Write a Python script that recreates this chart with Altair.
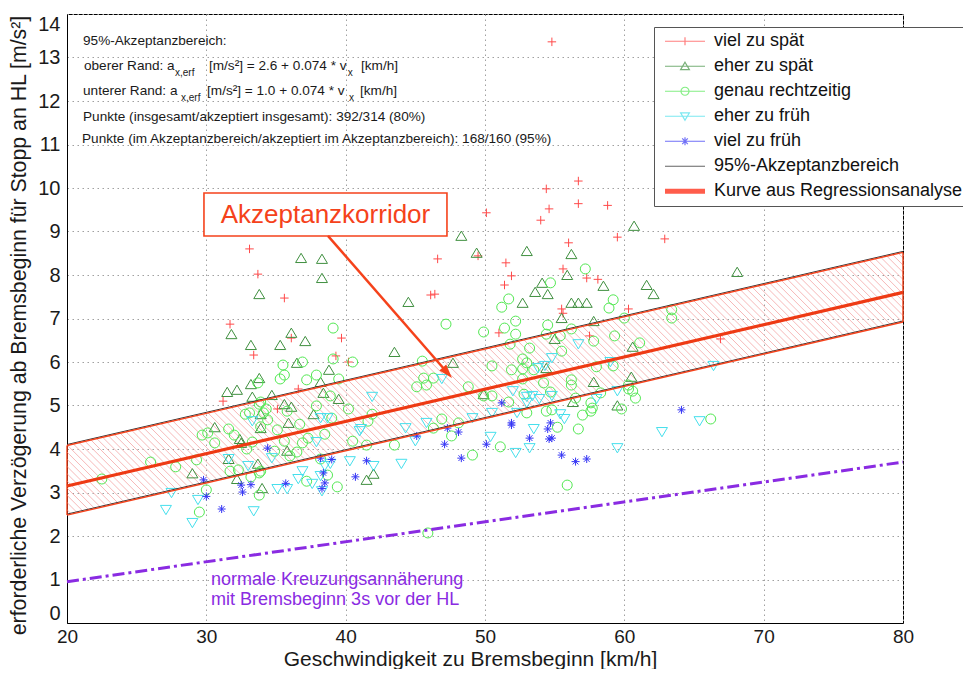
import altair as alt
import pandas as pd
import numpy as np

# ---------------- data ----------------
X_DOMAIN = [20, 80]
Y_DOMAIN = [0, 14]
x_ticks = [20, 30, 40, 50, 60, 70, 80]
y_ticks = list(range(0, 15))

categories = ["viel zu spät", "eher zu spät", "genau rechtzeitig", "eher zu früh", "viel zu früh"]

viel_zu_spaet = [
    (54.8, 13.36), (56.7, 10.16), (54.4, 9.98), (50.1, 9.43), (54.6, 9.52), (56.7, 9.64), (58.8, 9.60),
    (54.0, 9.26), (59.5, 8.87), (62.9, 8.83), (56.0, 8.74), (46.6, 8.37), (49.5, 8.44), (51.5, 8.28),
    (51.9, 7.98), (51.4, 7.77), (46.1, 7.54), (46.4, 7.56), (39.7, 6.55), (51.0, 6.67), (39.3, 6.14),
    (40.2, 6.00), (33.1, 8.60), (33.7, 8.02), (35.6, 7.47), (31.7, 6.87), (33.4, 6.16), (36.1, 6.55),
    (36.6, 5.38), (31.2, 5.10), (35.1, 4.92), (55.6, 8.14), (57.3, 7.93), (58.1, 7.90), (55.5, 7.22),
    (55.6, 7.12), (60.3, 7.22), (57.5, 6.60), (66.9, 6.53),
]
eher_zu_spaet = [
    (36.8, 8.39), (33.8, 7.56), (31.8, 6.64), (33.2, 6.39), (35.3, 6.39), (36.1, 6.67), (37.1, 6.48),
    (36.5, 5.98), (33.8, 5.63), (33.2, 5.49), (31.5, 5.31), (32.2, 5.36),
    (48.3, 8.90), (49.4, 8.51), (53.0, 8.55), (38.3, 8.37), (38.3, 7.93), (44.5, 7.38), (52.7, 7.36),
    (43.5, 6.23), (38.8, 5.82), (47.7, 5.98), (38.2, 5.54), (38.4, 5.29), (39.5, 5.15), (49.9, 5.26),
    (60.7, 9.13), (56.2, 8.48), (68.1, 8.07), (55.9, 8.00), (54.1, 7.82), (53.6, 7.61), (54.5, 7.56),
    (58.5, 7.75), (61.6, 7.77), (62.1, 7.56), (56.2, 7.36), (56.7, 7.36), (57.3, 7.36), (55.5, 7.01),
    (57.8, 6.94), (55.0, 6.53), (60.6, 6.35), (54.4, 5.86), (60.5, 5.66), (57.8, 5.54), (56.3, 5.08),
    (59.5, 5.00),
    (33.3, 5.20), (34.7, 5.24), (35.6, 5.03), (36.1, 4.97), (33.9, 4.80), (37.7, 4.80), (35.9, 4.60),
    (30.6, 4.50), (32.5, 4.14), (31.6, 3.77), (35.8, 3.96), (33.7, 3.66), (29.0, 3.44), (32.2, 3.31),
    (34.0, 3.10), (41.5, 3.29), (42.0, 3.43), (32.4, 4.23), (33.9, 4.48),
]
genau_rechtzeitig = [
    (35.5, 5.93), (36.9, 6.00), (35.6, 5.70), (35.3, 5.61), (33.7, 5.52), (37.2, 5.59),
    (39.1, 6.78), (47.2, 6.87), (51.7, 7.45), (51.2, 7.26), (52.2, 6.94), (51.4, 6.78), (49.9, 6.69),
    (52.2, 6.64), (39.1, 6.07), (40.5, 6.00), (45.5, 6.02), (50.5, 5.91), (37.9, 5.70), (39.5, 5.61),
    (45.6, 5.63), (45.8, 5.47), (46.3, 5.63), (45.1, 5.43), (48.8, 5.43), (50.5, 5.22), (51.9, 5.82),
    (52.7, 5.84), (51.8, 6.41),
    (57.2, 8.14), (54.7, 7.82), (59.2, 7.43), (58.9, 7.24), (63.4, 7.20), (63.4, 7.01), (60.0, 7.01),
    (54.5, 6.85), (54.4, 6.64), (55.4, 6.60), (56.2, 6.76), (57.8, 6.48), (59.3, 6.60), (61.1, 6.44),
    (53.2, 6.32), (55.5, 6.25), (52.7, 6.07), (54.2, 5.52), (56.2, 5.59), (58.0, 5.89), (56.2, 5.47),
    (60.6, 5.33), (60.3, 5.47), (57.6, 5.06), (58.3, 5.29), (54.7, 5.31), (52.8, 5.26),
    (53.0, 5.98), (53.5, 5.82), (52.7, 5.61), (59.2, 5.91), (60.3, 5.38), (60.8, 5.17), (49.9, 5.22),
    (51.7, 5.08), (56.5, 5.17), (57.7, 4.94), (53.0, 4.83), (54.4, 4.87), (54.8, 4.90), (57.0, 4.78),
    (55.2, 4.50), (56.7, 4.46), (46.9, 4.69), (46.3, 4.48), (48.1, 4.60), (47.6, 4.30), (51.1, 4.05),
    (49.1, 3.86), (57.6, 4.87), (59.8, 4.92), (66.2, 4.69), (55.9, 3.17),
    (45.9, 2.07), (43.5, 4.09), (41.5, 4.09), (40.2, 4.92), (41.9, 4.80), (41.6, 4.64), (40.5, 4.18),
    (38.5, 4.34), (37.3, 4.25), (39.0, 4.71), (38.7, 3.40), (39.4, 3.13), (37.2, 3.26), (38.2, 3.77),
    (29.7, 4.32), (30.1, 4.37), (30.6, 4.14), (31.6, 4.46), (32.0, 4.32), (33.1, 4.83), (27.8, 3.59),
    (29.3, 3.75), (29.5, 2.55), (30.0, 3.06), (22.5, 3.31), (33.8, 2.94), (33.2, 3.36), (33.8, 3.45),
    (32.3, 3.52), (32.9, 4.00), (35.1, 4.44), (34.9, 3.95), (36.0, 3.84), (36.7, 4.57), (36.5, 3.93),
    (34.4, 4.67), (33.9, 5.08), (38.9, 5.22), (33.8, 5.03), (37.9, 4.99), (32.8, 4.80), (34.1, 4.83),
    (33.9, 4.51), (33.3, 4.16), (35.6, 4.18), (36.9, 4.14), (31.7, 3.49), (33.9, 3.49), (34.3, 4.92),
    (35.8, 4.87), (26.0, 3.70),
]
eher_zu_frueh = [
    (33.3, 4.64), (31.6, 3.77), (33.0, 3.61), (27.5, 2.99), (29.4, 2.83), (27.1, 2.60), (29.0, 2.30),
    (33.4, 2.57), (35.1, 3.08), (35.8, 3.08), (36.6, 3.31), (37.6, 3.20), (36.9, 3.49), (34.7, 3.79),
    (38.2, 4.71), (38.7, 4.71), (37.9, 4.16), (38.5, 3.61), (40.3, 3.72), (41.0, 4.41), (41.9, 5.20),
    (42.0, 3.61), (38.3, 3.03), (44.0, 3.66), (44.3, 4.48), (45.0, 4.18), (45.8, 4.60), (41.1, 4.46),
    (50.4, 4.28), (52.2, 3.91), (49.1, 4.71), (38.2, 3.38), (38.9, 3.66), (53.5, 4.46), (53.2, 4.02),
    (55.4, 4.80), (55.7, 4.69), (59.5, 4.02), (62.7, 4.39), (65.4, 4.64), (56.7, 6.41), (54.8, 6.09),
    (59.0, 6.00), (54.3, 5.91), (53.8, 5.86), (52.0, 5.33), (53.0, 5.20), (53.4, 5.22), (53.9, 5.15),
    (54.8, 5.22), (53.0, 5.06), (59.5, 5.33), (46.9, 5.61), (50.5, 4.83), (52.3, 4.83), (58.0, 5.15),
    (66.4, 5.91),
]
viel_zu_frueh = [
    (34.4, 4.02), (29.8, 3.29), (30.0, 2.91), (31.1, 2.62), (32.5, 3.17), (32.6, 3.01), (33.2, 3.18),
    (35.7, 3.21), (38.2, 3.79), (39.0, 3.76), (38.4, 3.45), (38.5, 3.22), (38.3, 3.09), (40.7, 3.36),
    (41.5, 3.73), (45.1, 4.30), (47.1, 4.11), (47.3, 4.48), (48.1, 4.39), (48.3, 3.79), (50.1, 4.11),
    (51.9, 4.60), (51.2, 5.06), (51.9, 4.55), (53.2, 4.25), (54.5, 4.46), (54.8, 4.25), (54.6, 4.23),
    (54.7, 4.60), (55.5, 3.86), (56.5, 3.71), (57.3, 3.77), (64.1, 4.90),
]

# line end points
band_x = [20, 80]
upper_y = [4.08, 8.52]
lower_y = [2.48, 6.92]
regression_y = [3.15, 7.60]
normal_x = [20, 80]
normal_y = [0.95, 3.70]

# annotation texts (positions in data units)
info_lines = [
    (21.15, 13.38, "95%-Akzeptanzbereich:", 14),
    (21.22, 12.80, "oberer Rand: a", 14), (27.75, 12.64, "x,erf", 10),
    (30.19, 12.80, "[m/s²] = 2.6 + 0.074 * v", 14), (40.15, 12.64, "x", 10),
    (41.10, 12.80, "[km/h]", 14),
    (21.15, 12.23, "unterer Rand: a", 14), (28.18, 12.07, "x,erf", 10),
    (30.05, 12.23, "[m/s²] = 1.0 + 0.074 * v", 14), (40.24, 12.07, "x", 10),
    (41.03, 12.23, "[km/h]", 14),
    (21.15, 11.63, "Punkte (insgesamt/akzeptiert insgesamt): 392/314 (80%)", 14),
    (21.08, 11.13, "Punkte (im Akzeptanzbereich/akzeptiert im Akzeptanzbereich): 168/160 (95%)", 14),
]
normal_text = [(30.34, 0.99, "normale Kreuzungsannäherung"), (30.34, 0.53, "mit Bremsbeginn 3s vor der HL")]
corridor_box = {"x": [29.83], "x2": [47.27], "y": [9.885], "y2": [8.897]}
corridor_label = {"x": [38.55], "y": [9.38], "t": ["Akzeptanzkorridor"]}
arrow_line = {"x": [38.73], "y": [8.90], "x2": [47.30], "y2": [5.754]}
arrow_head = {"x": [47.30], "y": [5.754]}

# ---------------- styles ----------------
ORANGE = "#f5421b"
cat_colors = ["#ff4a4a", "#3f8f3f", "#52e852", "#45dfec", "#3535f5"]
cat_paths = [
    "M-0.85,0H0.85M0,-0.85V0.85",
    "M0,-0.95L1.1,0.9H-1.1Z",
    "M1,0A1,1,0,1,1,-1,0A1,1,0,1,1,1,0",
    "M0,0.95L1.1,-0.9H-1.1Z",
    "M-0.8,0H0.8M0,-0.8V0.8M-0.57,-0.57L0.57,0.57M-0.57,0.57L0.57,-0.57",
]
leg_names = categories + ["95%-Akzeptanzbereich", "Kurve aus Regressionsanalyse"]
leg_colors = cat_colors + ["#222222", "#ff1a00"]
leg_paths = [
    "M-1,0H1M0,-0.2V0.2",
    "M-1,0H1M0,-0.2L0.22,0.17H-0.22Z",
    "M-1,0H1M0.2,0A0.2,0.2,0,1,1,-0.2,0A0.2,0.2,0,1,1,0.2,0",
    "M-1,0H1M0,0.2L0.22,-0.17H-0.22Z",
    "M-1,0H1M0,-0.2V0.2M-0.14,-0.14L0.14,0.14M-0.14,0.14L0.14,-0.14",
    "M-1,0H1",
    "M-1,-0.1H1M-1,-0.05H1M-1,0H1M-1,0.05H1M-1,0.1H1",
]

FONT = "Liberation Sans"

x_axis = alt.Axis(values=x_ticks, title="Geschwindigkeit zu Bremsbeginn [km/h]", grid=True, ticks=False,
                  labelPadding=4, labelFlush=False, labelFontSize=19, titleX=403, titleY=42,
                  titleBaseline="alphabetic", titleAlign="center", titleAnchor="start", titleFontSize=21)
y_axis = alt.Axis(values=y_ticks, title="erforderliche Verzögerung ab Bremsbeginn für Stopp an HL [m/s²]",
                  grid=True, ticks=False, labelPadding=7, labelFlush=True, titleX=-42, titleY=311, titleAngle=270,
                  titleBaseline="alphabetic", titleAlign="center", titleAnchor="start", titleFontSize=21.3)


def X(field="x"):
    return alt.X(f"{field}:Q", scale=alt.Scale(domain=X_DOMAIN, nice=False, zero=False), axis=x_axis)


def Y(field="y"):
    return alt.Y(f"{field}:Q", scale=alt.Scale(domain=Y_DOMAIN, nice=False, zero=False), axis=y_axis)


# ---------------- tables ----------------
rows = []
for cat, pts in zip(categories, [viel_zu_spaet, eher_zu_spaet, genau_rechtzeitig, eher_zu_frueh, viel_zu_frueh]):
    rows += [{"x": a, "y": b, "kat": cat} for a, b in pts]
scatter_df = pd.DataFrame(rows)


def lin(xv, xs, ys):
    return ys[0] + (ys[1] - ys[0]) * (xv - xs[0]) / (xs[1] - xs[0])


# hatch pattern inside the acceptance band (45 deg on screen)
W, H = 836, 609
screen_slope = (W / (X_DOMAIN[1] - X_DOMAIN[0])) / (H / (Y_DOMAIN[1] - Y_DOMAIN[0]))
m_low = (lower_y[1] - lower_y[0]) / (band_x[1] - band_x[0])
hatch = []
for xs in np.arange(15.0, 80.0, 0.42):
    y1 = lin(xs, band_x, upper_y)
    t = (y1 - lin(xs, band_x, lower_y)) / (screen_slope + m_low)
    hatch.append({"x": xs, "y": y1, "x2": xs + t, "y2": lin(xs + t, band_x, lower_y)})
hatch_df = pd.DataFrame(hatch)

upper_df = pd.DataFrame({"x": band_x, "y": upper_y})
lower_df = pd.DataFrame({"x": band_x, "y": lower_y})
reg_df = pd.DataFrame({"x": band_x, "y": regression_y})
edge_df = pd.DataFrame({"x": band_x, "y": lower_y, "y2": upper_y})
normal_df = pd.DataFrame({"x": normal_x, "y": normal_y})
info_df = pd.DataFrame(info_lines, columns=["x", "y", "t", "fs"])
normal_text_df = pd.DataFrame(normal_text, columns=["x", "y", "t"])
leg_df = pd.DataFrame({"Legende": leg_names, "x": [50] * 7, "y": [7] * 7})

# ---------------- layers ----------------
hatch_layer = alt.Chart(hatch_df).mark_rule(clip=True, color="#f5b0b0", strokeWidth=0.9).encode(
    x=X(), y=Y(), x2="x2:Q", y2="y2:Q")

points = alt.Chart(scatter_df).mark_point(filled=False, size=100, strokeWidth=1, opacity=1).encode(
    x=X(), y=Y(),
    color=alt.Color("kat:N", scale=alt.Scale(domain=categories, range=cat_colors), legend=None),
    shape=alt.Shape("kat:N", scale=alt.Scale(domain=categories, range=cat_paths), legend=None),
)

black_up = alt.Chart(upper_df).mark_line(color="#333333", strokeWidth=1, yOffset=-1).encode(x=X(), y=Y())
black_lo = alt.Chart(lower_df).mark_line(color="#333333", strokeWidth=1, yOffset=-1).encode(x=X(), y=Y())
red_up = alt.Chart(upper_df).mark_line(color=ORANGE, strokeWidth=1.4).encode(x=X(), y=Y())
red_lo = alt.Chart(lower_df).mark_line(color=ORANGE, strokeWidth=1.4).encode(x=X(), y=Y())
edges = alt.Chart(edge_df).mark_rule(color=ORANGE, strokeWidth=1.4).encode(x=X(), y=Y(), y2="y2:Q")
reg_line = alt.Chart(reg_df).mark_line(color="#ee3a14", strokeWidth=3.2).encode(x=X(), y=Y())
normal_line = alt.Chart(normal_df).mark_line(color="#8a2be2", strokeWidth=3, strokeDash=[12, 4, 3, 4]).encode(
    x=X(), y=Y())

info_big = alt.Chart(info_df).transform_filter("datum.fs > 12").mark_text(
    align="left", baseline="middle", font=FONT, fontSize=13.6, color="#1a1a1a").encode(x=X(), y=Y(), text="t:N")
info_sub = alt.Chart(info_df).transform_filter("datum.fs <= 12").mark_text(
    align="left", baseline="middle", font=FONT, fontSize=10, color="#1a1a1a").encode(x=X(), y=Y(), text="t:N")
normal_txt = alt.Chart(normal_text_df).mark_text(
    align="left", baseline="middle", font=FONT, fontSize=18, color="#8a2be2").encode(x=X(), y=Y(), text="t:N")

box = alt.Chart(pd.DataFrame(corridor_box)).mark_rect(fill="white", stroke=ORANGE, strokeWidth=1.6).encode(
    x=X(), x2="x2:Q", y=Y(), y2="y2:Q")
box_txt = alt.Chart(pd.DataFrame(corridor_label)).mark_text(
    align="center", baseline="middle", font=FONT, fontSize=26, color=ORANGE).encode(x=X(), y=Y(), text="t:N")
arrow = alt.Chart(pd.DataFrame(arrow_line)).mark_rule(color=ORANGE, strokeWidth=2.5).encode(
    x=X(), y=Y(), x2="x2:Q", y2="y2:Q")
head = alt.Chart(pd.DataFrame(arrow_head)).mark_point(
    shape="M0,1L-0.65,-1L0.65,-1Z", size=196, filled=True, color=ORANGE, angle=319, opacity=1).encode(x=X(), y=Y())

legend_props = dict(title=None, orient="none", legendX=587, legendY=13, fillColor="white", strokeColor="#555555",
                    padding=5, labelFont=FONT, labelFontSize=18, labelColor="#111111", labelLimit=400,
                    symbolSize=1600, clipHeight=18.5, rowPadding=6, symbolOffset=5, labelOffset=8,
                    symbolStrokeWidth=1.2)
legend_layer = alt.Chart(leg_df).transform_filter("datum.x > 1000").mark_point(
    filled=False, size=1600, strokeWidth=1.2).encode(
    x=X(), y=Y(),
    color=alt.Color("Legende:N", scale=alt.Scale(domain=leg_names, range=leg_colors), legend=alt.Legend(**legend_props)),
    shape=alt.Shape("Legende:N", scale=alt.Scale(domain=leg_names, range=leg_paths), legend=alt.Legend(**legend_props)),
)

chart = alt.layer(
    hatch_layer, points, black_up, black_lo, red_up, red_lo, edges, reg_line, normal_line,
    info_big, info_sub, normal_txt, box, box_txt, arrow, head, legend_layer,
).resolve_scale(color="independent", shape="independent").properties(
    width=W, height=H,
    padding={"left": 59, "top": 6, "right": 60, "bottom": 46},
    autosize=alt.AutoSizeParams(type="none"),
    background="white",
).configure_view(stroke="black", strokeWidth=1).configure_axis(
    gridColor="#a0a0a0", gridDash=[1.5, 3.5], gridWidth=1, domainColor="black",
    labelFont=FONT, labelFontSize=20, labelColor="#1a1a1a",
    titleFont=FONT, titleFontSize=22, titleFontWeight="normal", titleColor="#1a1a1a",
)

chart.save("out.html", embed_options={"renderer": "svg", "actions": False})
